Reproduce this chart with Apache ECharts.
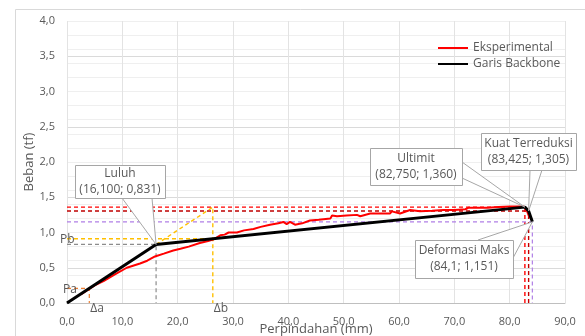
<!DOCTYPE html>
<html><head><meta charset="utf-8">
<script src="https://cdn.jsdelivr.net/npm/echarts@6/dist/echarts.min.js"></script>
<style>html,body{margin:0;padding:0;background:#fff}#c{width:585px;height:336px}</style>
</head><body><div id="c"></div>
<script>
// Experimental curve (Perpindahan mm, Beban tf)
const expX=[2.5,5.0,6.6,8.5,10.8,13.2,14.5,15.9,17.5,19.2,20.5,22,24,25.5,26.4,27.7,28.5,29.2,30.7,32,33.7,35,36.7,38.2,39.1,39.7,40.3,41.2,42.5,43.9,45.5,47.6,47.9,48.8,50.5,52.4,53,54.8,56.5,58.4,58.7,60.2,62,63.8,66,68,70,72,72.5,74,76,78,80.1,82.5,83.0,83.4,84.0];
const expY=[0.12,0.25,0.31,0.40,0.50,0.56,0.60,0.66,0.70,0.745,0.77,0.80,0.85,0.88,0.90,0.96,0.97,1.00,1.00,1.03,1.05,1.08,1.11,1.13,1.15,1.12,1.15,1.11,1.13,1.17,1.18,1.20,1.24,1.23,1.24,1.25,1.23,1.27,1.27,1.27,1.30,1.27,1.32,1.30,1.31,1.32,1.32,1.33,1.35,1.35,1.35,1.36,1.37,1.37,1.33,1.25,1.18];
// Backbone
const bbX=[0,16.1,82.75,83.425,84.1];
const bbY=[0,0.831,1.36,1.305,1.151];
// Key points
const yieldPt=[16.1,0.831];
const ultPt=[82.75,1.36];
const redPt=[83.425,1.305];
const maxPt=[84.1,1.151];
const Pa=0.208, dA=4.03, Pb=0.912, dB=26.35;
const seriesNames=['Eksperimental','Garis Backbone'];

const fmt=v=>v.toFixed(1).replace('.',',');
const ff='"Open Sans", sans-serif';
const grey='#595959';

function dashed(pts,color,w){
  return {type:'line',data:pts,symbol:'none',silent:true,animation:false,
    lineStyle:{color:color,width:w||1.2,type:[4,3]},z:2};
}
const chart=echarts.init(document.getElementById('c'),null,{renderer:'canvas'});
const grid={left:67,right:20,top:21,bottom:33,containLabel:false,outerBoundsMode:'none'};
chart.setOption({
  animation:false,
  grid:grid,
  legend:{data:seriesNames,orient:'vertical',left:433,top:37,itemWidth:30,itemHeight:12,itemGap:4,
    textStyle:{fontFamily:ff,fontSize:12,color:grey},icon:'path://M0,5 L30,5 L30,7 L0,7 Z'},
  xAxis:{type:'value',min:0,max:90,interval:10,
    name:'Perpindahan (mm)',nameLocation:'middle',nameGap:20,nameMoveOverlap:false,
    nameTextStyle:{fontFamily:ff,fontSize:13,color:grey},
    axisLine:{show:true,lineStyle:{color:'#BFBFBF'}},axisTick:{show:false},
    axisLabel:{formatter:fmt,fontFamily:ff,fontSize:11,color:grey,margin:13},
    splitLine:{show:true,lineStyle:{color:'#E3E3E3'}}},
  yAxis:[{type:'value',min:0,max:4,interval:0.5,
    name:'Beban (tf)',nameLocation:'middle',nameGap:31,nameMoveOverlap:false,
    nameTextStyle:{fontFamily:ff,fontSize:13,color:grey},
    axisLine:{show:false},axisTick:{show:false},
    axisLabel:{formatter:fmt,fontFamily:ff,fontSize:11,color:grey,margin:12},
    splitLine:{show:true,lineStyle:{color:'#DADADA'}}},
   {type:'value',min:0,max:4,interval:0.2,position:'left',
    axisLine:{show:false},axisTick:{show:false},axisLabel:{show:false},
    splitLine:{show:true,lineStyle:{color:'#EFEFEF'}},z:0}],
  series:[
    dashed([[0,ultPt[1]],ultPt],'#FF0000',1.4),
    dashed([[0,redPt[1]],redPt],'#C00000',1.4),
    dashed([[ultPt[0],0],ultPt],'#FF0000',1.4),
    dashed([[redPt[0],0],redPt],'#C00000',1.4),
    dashed([[0,maxPt[1]],maxPt,[maxPt[0],0]],'#B07FE6',1.2),
    dashed([[0,yieldPt[1]],yieldPt,[yieldPt[0],0]],'#8C8C8C',1.2),
    dashed([[0,Pb],[dB,Pb]],'#FFC000',1.4),
    dashed([yieldPt,[dB,ultPt[1]],[dB,0]],'#FFC000',1.4),
    dashed([[0,Pa],[dA,Pa],[dA,0]],'#ED7D31',1.2),
    {name:seriesNames[0],type:'line',data:expX.map((x,i)=>[x,expY[i]]),symbol:'none',
      lineStyle:{color:'#FF0000',width:2},itemStyle:{color:'#FF0000'},z:3},
    {name:seriesNames[1],type:'line',data:bbX.map((x,i)=>[x,bbY[i]]),symbol:'none',
      lineStyle:{color:'#000000',width:3},itemStyle:{color:'#000000'},z:4}
  ]
});

const P=p=>chart.convertToPixel({gridIndex:0},p);
function callout(box,lines,wedge,pt){
  const g=[];
  g.push({type:'polyline',shape:{points:[wedge[0],P(pt),wedge[1]]},
    style:{stroke:'#A6A6A6',fill:'#fff',lineWidth:1},z:10});
  g.push({type:'rect',shape:{x:box[0]+0.5,y:box[1]+0.5,width:box[2],height:box[3]},
    style:{stroke:'#A6A6A6',fill:'#fff',lineWidth:1},z:11});
  lines.forEach((t,i)=>g.push({type:'text',x:box[0]+box[2]/2,y:box[1]+box[3]/2+(i-(lines.length-1)/2)*16,
    style:{text:t,fill:grey,font:'12px '+ff,align:'center',verticalAlign:'middle'},z:12}));
  return g;
}
function lbl(t,x,y){return {type:'text',x:x,y:y,style:{text:t,fill:grey,font:'12px '+ff,align:'left',verticalAlign:'middle'},z:12};}
const pa=P([0,Pa]),pb=P([0,Pb]),da=P([dA,0]),db=P([dB,0]);
const gr=[{type:'rect',shape:{x:15.5,y:9.5,width:620,height:400},style:{stroke:'#D9D9D9',fill:null,lineWidth:1},z:-1,silent:true}]
 .concat(callout([75,165,90,33],['Luluh','(16,100; 0,831)'],[[122,198],[152,198]],yieldPt))
 .concat(callout([370,148,92,37],['Ultimit','(82,750; 1,360)'],[[462,162],[462,178]],ultPt))
 .concat(callout([481,133,95,37],['Kuat Terreduksi','(83,425; 1,305)'],[[530,170],[542,170]],redPt))
 .concat(callout([415,240,98,38],['Deformasi Maks','(84,1; 1,151)'],[[478,240],[513,258]],maxPt))
 .concat([lbl('Pa',pa[0]-4,pa[1]+1),lbl('Pb',pb[0]-7,pb[1]+1),lbl('Δa',da[0]+1,da[1]+6),lbl('Δb',db[0]+1,db[1]+6)]);
chart.setOption({graphic:gr});
</script></body></html>
